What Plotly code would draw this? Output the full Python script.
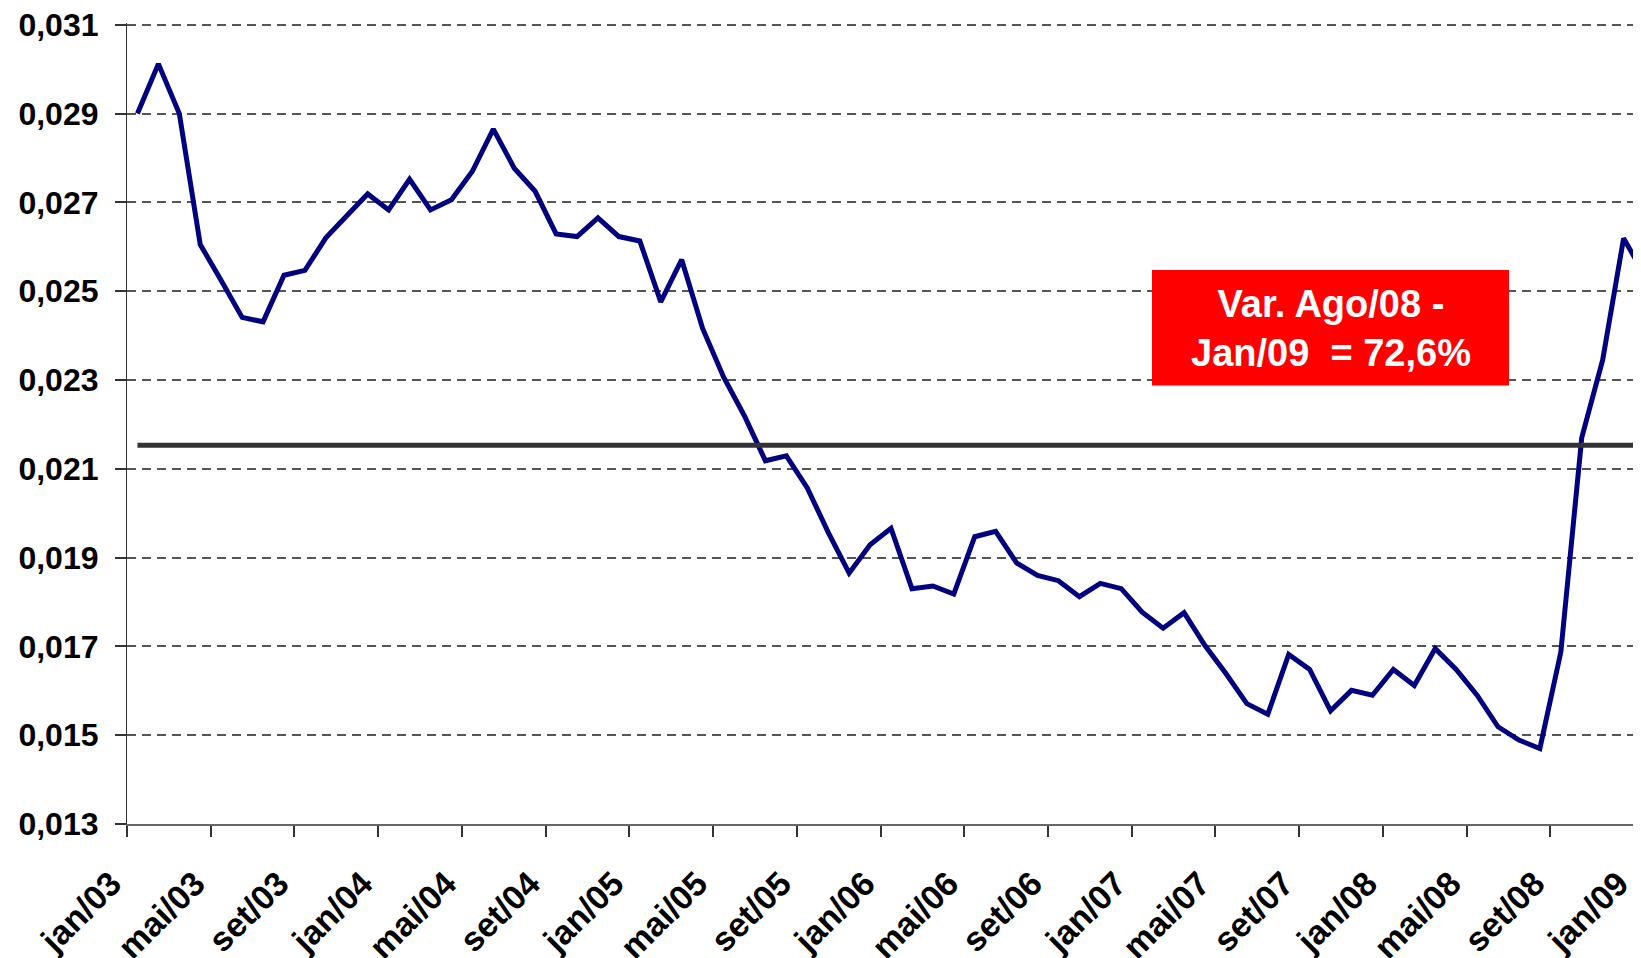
import plotly.graph_objects as go

month_abbr = ["jan", "fev", "mar", "abr", "mai", "jun", "jul", "ago", "set", "out", "nov", "dez"]
years = ["03", "04", "05", "06", "07", "08", "09"]
months = [f"{m}/{y}" for y in years for m in month_abbr][:73]

values = [
    0.02900, 0.03012, 0.02900, 0.02605, 0.02524, 0.02441, 0.02431, 0.02536, 0.02547, 0.02620, 0.02670, 0.02719,
    0.02683, 0.02752, 0.02683, 0.02706, 0.02770, 0.02865, 0.02777, 0.02725, 0.02629, 0.02623, 0.02665, 0.02623,
    0.02613, 0.02476, 0.02571, 0.02416, 0.02307, 0.02219, 0.02118, 0.02129, 0.02057, 0.01957, 0.01865, 0.01929,
    0.01966, 0.01830, 0.01836, 0.01818, 0.01947, 0.01959, 0.01888, 0.01860, 0.01848, 0.01812, 0.01842, 0.01830,
    0.01777, 0.01741, 0.01776, 0.01702, 0.01639, 0.01571, 0.01547, 0.01682, 0.01648, 0.01555, 0.01601, 0.01590,
    0.01648, 0.01612, 0.01695, 0.01648, 0.01590, 0.01519, 0.01489, 0.01470, 0.01687, 0.02170, 0.02345, 0.02619,
    0.02537,
]
average_value = 0.02153
average = [average_value] * len(months)

y_ticks = [0.013, 0.015, 0.017, 0.019, 0.021, 0.023, 0.025, 0.027, 0.029, 0.031]

annotation_text = "Var. Ago/08 -<br>Jan/09\u00a0 = 72,6%"

FONT = "Liberation Sans, Arial, sans-serif"

fig = go.Figure()
fig.add_trace(go.Scatter(x=months, y=values, mode="lines",
                         line=dict(color="#000080", width=5), hoverinfo="skip"))
fig.add_trace(go.Scatter(x=months, y=average, mode="lines",
                         line=dict(color="#333333", width=5), hoverinfo="skip"))

# plot area is 1528 px wide (extends slightly past the window edge, like the cropped original)
PW = 1528.0
PH = 801.0
TOP = 15
def py(page_y):
    # page y (px) -> paper fraction; page origin offset by 8px body margin
    return 1 - (page_y - 8 - TOP) / PH

fig.add_shape(type="rect", xref="paper", yref="paper",
              x0=(1152 - 127) / PW, x1=(1509 - 127) / PW, y0=py(385.5), y1=py(270),
              fillcolor="#FF0000", line=dict(width=0), layer="above")
fig.add_annotation(xref="paper", yref="paper", x=(1331 - 127) / PW, y=py(328),
                   text=annotation_text, showarrow=False,
                   font=dict(family=FONT, size=38, color="white", weight="bold"),
                   align="center", xanchor="center", yanchor="middle")

# the page body has an 8px default margin; the figure is offset accordingly
fig.update_layout(
    width=int(119 + PW), height=950,
    margin=dict(l=119, r=0, t=TOP, b=134, autoexpand=False),
    paper_bgcolor="white", plot_bgcolor="white",
    showlegend=False,
    separators=",.",
    font=dict(family=FONT, color="black"),
)
fig.update_xaxes(
    type="category",
    automargin=False,
    range=[-0.5, 72.5],
    tickmode="linear", tick0=0, dtick=4,
    tickson="boundaries",
    ticks="outside", ticklen=11, tickwidth=1.5, tickcolor="#333333",
    tickangle=-45,
    ticklabelshift=-26,
    ticklabelstandoff=24,
    tickfont=dict(family=FONT, size=34, color="black", weight="bold"),
    showgrid=False,
    showline=True, linecolor="#666666", linewidth=2,
    zeroline=False,
)
fig.update_yaxes(
    automargin=False,
    range=[0.013, 0.03104],
    tickmode="array", tickvals=y_ticks,
    tickformat=".3f",
    ticks="outside", ticklen=11, tickwidth=1.5, tickcolor="#333333",
    ticklabelstandoff=10,
    ticklabeloverflow="allow",
    tickfont=dict(family=FONT, size=32, color="black", weight="bold"),
    showgrid=True, gridcolor="#555555", gridwidth=1.5, griddash="9px,6px",
    showline=True, linecolor="#333333", linewidth=1.2,
    zeroline=False,
)

fig.write_html("out.html")
